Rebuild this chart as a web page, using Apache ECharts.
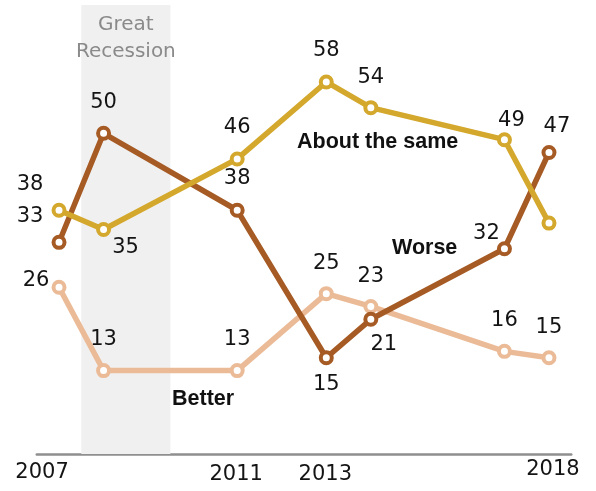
<!DOCTYPE html>
<html>
<head>
<meta charset="utf-8">
<script src="https://cdn.jsdelivr.net/npm/echarts@6/dist/echarts.min.js"></script>
<style>
  html, body { margin: 0; padding: 0; background: #fff; }
  #chart { width: 596px; height: 491px; }
</style>
</head>
<body>
<div id="chart"></div>
<script>
// Survey years and the share answering each option (%)
const years = [2007, 2008, 2011, 2013, 2014, 2017, 2018];
const aboutTheSame = [38, 35, 46, 58, 54, 49, 36];
const worse = [33, 50, 38, 15, 21, 32, 47];
const better = [26, 13, 13, 25, 23, 16, 15];
const tickYears = [2007, 2011, 2013, 2018];
const recessionStart = 2007.5;
const recessionEnd = 2009.5;
const recessionLabel = 'Great\nRecession';

// Value-label placement, in pixels from each point's centre (null = no label)
const aboutOffsets = [[-29, -26], [22, 18], [0, -31], [0, -31], [0, -30], [7, -19], null];
const worseOffsets = [[-29, -26], [0, -31], [0, -32], [0, 27], [13, 25], [-18, -15], [8, -26]];
const betterOffsets = [[-23, -7], [0, -31], [0, -31], [0, -30], [0, -30], [0, -31], [0, -30]];

const NUM_FONT = 'DejaVu Sans';
const colors = { about: '#D4A82C', worse: '#A65A24', better: '#EBBB98' };

function makeSeries(name, values, offsets, color, z) {
  return {
    name: name,
    type: 'line',
    z: z,
    data: years.map((y, i) => ({
      value: [y, values[i]],
      label: offsets[i]
        ? { show: true, position: 'inside', offset: offsets[i] }
        : { show: false }
    })),
    symbol: 'circle',
    symbolSize: 11,
    showSymbol: true,
    lineStyle: { color: color, width: 5.5 },
    itemStyle: { color: '#fff', borderColor: color, borderWidth: 4 },
    label: {
      show: true,
      color: '#141414',
      fontFamily: NUM_FONT,
      fontSize: 21,
      formatter: p => String(p.value[1])
    },
    emphasis: { disabled: true },
    silent: true
  };
}

// Per-tick nudges for the year labels
const tickRich = {
  y2007: { padding: [7, 34, 0, 0] },
  y2011: { padding: [11, 2, 0, 0] },
  y2013: { padding: [11, 2, 0, 0] },
  y2018: { padding: [0, 0, 0, 8] }
};
Object.keys(tickRich).forEach(k => {
  Object.assign(tickRich[k], { fontFamily: NUM_FONT, fontSize: 21, color: '#141414', lineHeight: 21 });
});

const betterSeries = makeSeries('Better', better, betterOffsets, colors.better, 2);
betterSeries.markArea = {
  silent: true,
  itemStyle: { color: '#F0F0F0' },
  label: {
    show: true,
    position: 'insideTop',
    distance: 6,
    color: '#8a8a8a',
    fontFamily: NUM_FONT,
    fontSize: 20,
    lineHeight: 27,
    formatter: recessionLabel
  },
  data: [[{ xAxis: recessionStart, yAxis: 0 }, { xAxis: recessionEnd, yAxis: 70 }]]
};

const chart = echarts.init(document.getElementById('chart'), null, { renderer: 'canvas' });
chart.setOption({
  animation: false,
  backgroundColor: '#fff',
  grid: { left: 36.75, right: 24.75, top: 5, bottom: 37, containLabel: false, outerBoundsMode: 'none' },
  xAxis: {
    type: 'value',
    min: 2006.5,
    max: 2018.5,
    axisLine: { show: true, lineStyle: { color: '#8f8f8f', width: 2.5 } },
    axisTick: { show: false },
    splitLine: { show: false },
    axisLabel: {
      customValues: tickYears,
      margin: 5,
      formatter: v => '{y' + v + '|' + v + '}',
      rich: tickRich
    }
  },
  yAxis: {
    type: 'value',
    min: 0,
    max: 70,
    show: false
  },
  series: [
    betterSeries,
    makeSeries('Worse', worse, worseOffsets, colors.worse, 3),
    makeSeries('About the same', aboutTheSame, aboutOffsets, colors.about, 4)
  ],
  graphic: [
    { type: 'text', x: 297, y: 142, z: 10, style: { text: 'About the same', font: 'bold 21.5px "Liberation Sans"', fill: '#111', textAlign: 'left', textVerticalAlign: 'middle' } },
    { type: 'text', x: 392, y: 248, z: 10, style: { text: 'Worse', font: 'bold 21.5px "Liberation Sans"', fill: '#111', textAlign: 'left', textVerticalAlign: 'middle' } },
    { type: 'text', x: 172, y: 399, z: 10, style: { text: 'Better', font: 'bold 21.5px "Liberation Sans"', fill: '#111', textAlign: 'left', textVerticalAlign: 'middle' } }
  ]
});
</script>
</body>
</html>
